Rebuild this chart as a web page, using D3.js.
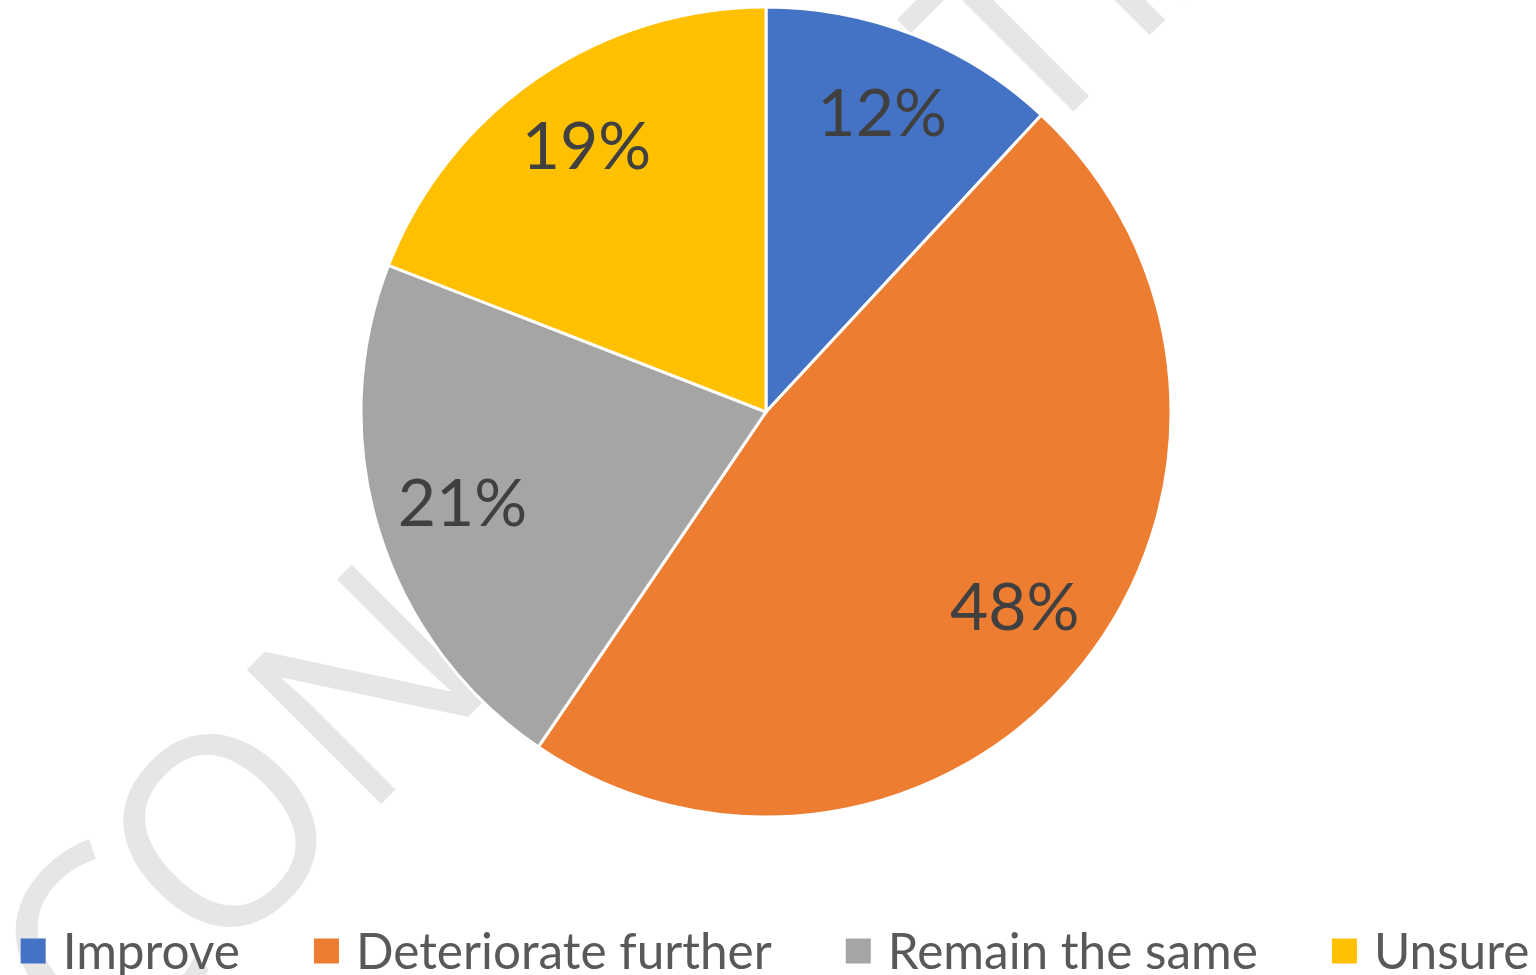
<!DOCTYPE html>
<html>
<head>
<meta charset="utf-8">
<script src="https://cdn.jsdelivr.net/npm/d3@7"></script>
<style>
  html, body { margin: 0; padding: 0; background: #fff; }
  svg { display: block; }
</style>
</head>
<body>
<svg id="chart"></svg>
<script>
// chart data
var categories = ["Improve", "Deteriorate further", "Remain the same", "Unsure"];
var shares = [11.9, 47.6, 21.4, 19.1];
var colors = ["#4472c4", "#ed7d31", "#a5a5a5", "#ffc000"];

// watermark letters and their offsets along the rotated baseline
var markLetters = ["C", "O", "N", "F", "I", "D", "E", "N", "T", "I", "A", "L"];
var markOffsets = [-690, -535, -325, -120, 22, 98, 282, 428, 618, 762, 836, 1007];

var width = 1536, height = 975;
var cx = 766, cy = 412, radius = 405;

var svg = d3.select("#chart")
    .attr("width", width)
    .attr("height", height);

svg.append("rect")
    .attr("width", width)
    .attr("height", height)
    .attr("fill", "#fff");

// watermark behind the pie
svg.append("text")
    .attr("transform", "translate(592.5,592.5) rotate(-45)")
    .attr("x", markOffsets.join(" "))
    .attr("y", 0)
    .attr("font-family", "'Open Sans', Lato, sans-serif")
    .attr("font-weight", 400)
    .attr("font-size", 266)
    .attr("fill", "#e6e6e6")
    .text(markLetters.join(""));

var pie = d3.pie().sort(null).value(function(d) { return d; });
var arcs = pie(shares);

var arc = d3.arc().innerRadius(0).outerRadius(radius);
var labelArc = d3.arc().innerRadius(radius * 0.785).outerRadius(radius * 0.785);

var g = svg.append("g").attr("transform", "translate(" + cx + "," + cy + ")");

g.selectAll("path")
    .data(arcs)
  .enter().append("path")
    .attr("d", arc)
    .attr("fill", function(d, i) { return colors[i]; })
    .attr("stroke", "#fff")
    .attr("stroke-width", 3)
    .attr("stroke-linejoin", "round");

g.selectAll("text.lbl")
    .data(arcs)
  .enter().append("text")
    .attr("class", "lbl")
    .attr("transform", function(d) { return "translate(" + labelArc.centroid(d) + ")"; })
    .attr("text-anchor", "middle")
    .attr("dy", "0.3em")
    .attr("font-family", "Lato, 'Open Sans', sans-serif")
    .attr("font-size", 66)
    .attr("fill", "#404040")
    .text(function(d) { return Math.round(d.value) + "%"; });

// legend along the bottom
var legendY = 951, box = 25, textGap = 17, itemGap = 74;
var legend = svg.append("g");
var items = legend.selectAll("g")
    .data(categories)
  .enter().append("g");

items.append("rect")
    .attr("width", box)
    .attr("height", box)
    .attr("y", legendY - box / 2)
    .attr("fill", function(d, i) { return colors[i]; });

items.append("text")
    .attr("x", box + textGap)
    .attr("y", legendY)
    .attr("dy", "0.36em")
    .attr("font-family", "Lato, 'Open Sans', sans-serif")
    .attr("font-size", 49.5)
    .attr("fill", "#595959")
    .text(function(d) { return d; });

var offsets = [], pos = 0;
items.each(function() {
  var w = d3.select(this).select("text").node().getComputedTextLength();
  offsets.push(pos);
  pos += box + textGap + w + itemGap;
});
var total = pos - itemGap;
var startX = 775 - total / 2;
items.attr("transform", function(d, i) { return "translate(" + (startX + offsets[i]) + ",0)"; });
</script>
</body>
</html>
